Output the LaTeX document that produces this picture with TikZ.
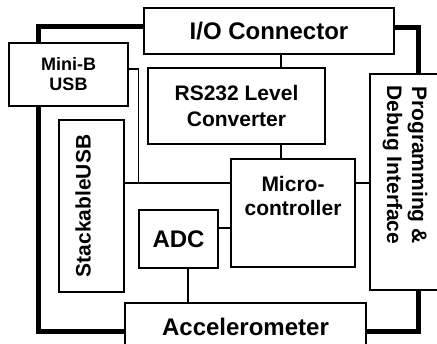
\documentclass[tikz,border=0pt]{standalone}
\usepackage{fontspec}
\setmainfont{Liberation Sans}
\usetikzlibrary{positioning,backgrounds}

\tikzset{
  blk/.style={draw, fill=white, line width=1.3pt, inner sep=0pt, align=center,
    font=\bfseries\fontsize{21}{25}\selectfont},
  big/.style={font=\bfseries\fontsize{24}{28}\selectfont},
  lbl/.style={align=center, inner sep=0pt, font=\bfseries\fontsize{21}{25}\selectfont},
  bus/.style={line width=5pt},
  wire/.style={line width=1.3pt},
}

\begin{document}
\begin{tikzpicture}[x=1pt,y=-1pt]
\clip (0,0) rectangle (437,344);
% blocks
\node[blk, big, minimum width=250pt, minimum height=46pt] (io) at (269,31) {I/O Connector};
\node[blk, minimum width=119pt, minimum height=63pt,
  font=\bfseries\fontsize{18}{20}\selectfont] (miniusb) at (68.5,74.5) {Mini-B\\USB};
\node[blk, minimum width=177pt, minimum height=76pt,
  font=\bfseries\fontsize{21}{26}\selectfont] (rs232) at (236.5,106) {RS232 Level\\Converter};
\node[blk, minimum width=65pt, minimum height=172pt,
  label={[lbl, name=stacklbl, xshift=-8.5pt, rotate=90]center:StackableUSB}] (stack) at (91.5,206) {};
\node[blk, minimum width=124pt, minimum height=108pt,
  label={[lbl, name=mculbl, yshift=17pt, font=\bfseries\fontsize{21}{24}\selectfont]center:Micro-\\controller}] (mcu) at (293,213) {};
\node[blk, big, minimum width=79pt, minimum height=58pt] (adc) at (178.5,239) {ADC};
\node[blk, minimum width=70pt, minimum height=216pt,
  label={[lbl, name=proglbl, yshift=17pt, rotate=-90]center:Programming \&\\Debug Interface}] (prog) at (405,182) {};
\node[blk, big, minimum width=241pt, minimum height=47pt] (accel) at (245.5,326.5) {Accelerometer};
% thick bus, behind the blocks
\begin{scope}[on background layer]
\coordinate (busleft) at (38,180);
\draw[bus] ([yshift=4pt]io.west) -| (busleft) |- ([yshift=-5.5pt]accel.west);
\draw[bus] ([yshift=3pt]io.east) -| ([xshift=13pt]prog.north);
\draw[bus] ([xshift=13pt]prog.south) |- ([yshift=-5.5pt]accel.east);
\end{scope}
% signal wires
\draw[wire] ([xshift=44.5pt]rs232.north) -- ([xshift=44.5pt]rs232.north |- io.south);
\draw[wire] ([xshift=44.5pt]rs232.south) -- ([xshift=44.5pt]rs232.south |- mcu.north);
\draw[wire] ([yshift=30pt]mcu.east) -- ([yshift=30pt]mcu.east -| prog.west);
\draw[wire] ([yshift=30pt]mcu.west) -- ([yshift=30pt]mcu.west -| stack.east);
\draw[wire] ([yshift=5.5pt]miniusb.east) -- ++(9.5,0) |- ([yshift=30pt]mcu.west);
\draw[wire] ([yshift=11pt]adc.east) -- ([yshift=11pt]adc.east -| mcu.west);
\draw[wire] ([xshift=9.5pt]adc.south) -- ([xshift=9.5pt]adc.south |- accel.north);
\end{tikzpicture}
\end{document}
